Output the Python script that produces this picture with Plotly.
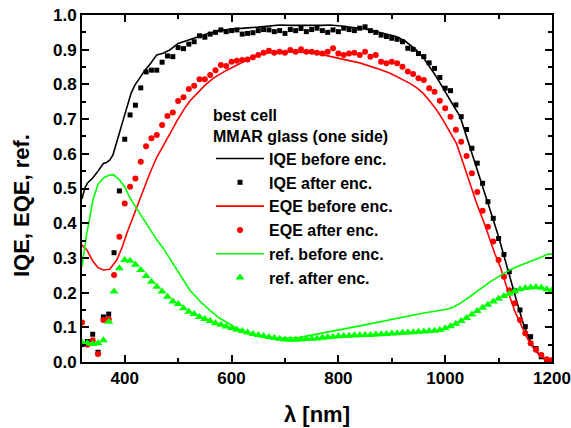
import plotly.graph_objects as go

# ---------------- data ----------------
# wavelengths of the "after encapsulation" measurements (nm)
wl_after = [320, 330, 340, 350, 360, 370, 380, 390, 400, 410, 420, 430, 440, 450, 460, 470, 480, 490,
            500, 510, 520, 530, 540, 550, 560, 570, 580, 590, 600, 610, 620, 630, 640, 650, 660, 670,
            680, 690, 700, 710, 720, 730, 740, 750, 760, 770, 780, 790, 800, 810, 820, 830, 840, 850,
            860, 870, 880, 890, 900, 910, 920, 930, 940, 950, 960, 970, 980, 990, 1000, 1010, 1020,
            1030, 1040, 1050, 1060, 1070, 1080, 1090, 1100, 1110, 1120, 1130, 1140, 1150, 1160, 1170,
            1180, 1190, 1200]

iqe_after = [0.050, 0.059, 0.080, 0.028, 0.130, 0.138, 0.315, 0.493, 0.642, 0.712, 0.740, 0.790,
             0.836, 0.841, 0.841, 0.864, 0.882, 0.880, 0.906, 0.903, 0.916, 0.923, 0.940, 0.936,
             0.945, 0.950, 0.957, 0.952, 0.955, 0.957, 0.945, 0.947, 0.949, 0.955, 0.958, 0.957,
             0.952, 0.955, 0.947, 0.958, 0.955, 0.961, 0.952, 0.958, 0.962, 0.955, 0.950, 0.957,
             0.952, 0.962, 0.958, 0.955, 0.962, 0.966, 0.955, 0.950, 0.942, 0.938, 0.933, 0.930,
             0.923, 0.904, 0.901, 0.889, 0.880, 0.862, 0.846, 0.820, 0.789, 0.782, 0.741, 0.707,
             0.670, 0.616, 0.573, 0.515, 0.462, 0.414, 0.356, 0.310, 0.260, 0.205, 0.150, 0.102,
             0.073, 0.039, 0.015, 0.006, 0.005]

eqe_after = [0.114, 0.050, 0.063, 0.023, 0.121, 0.123, 0.251, 0.361, 0.457, 0.505, 0.529, 0.577,
             0.622, 0.645, 0.654, 0.683, 0.709, 0.719, 0.752, 0.763, 0.787, 0.796, 0.815, 0.815,
             0.827, 0.841, 0.856, 0.853, 0.865, 0.868, 0.870, 0.872, 0.878, 0.885, 0.891, 0.897,
             0.891, 0.894, 0.891, 0.899, 0.894, 0.901, 0.894, 0.894, 0.891, 0.889, 0.894, 0.904,
             0.889, 0.885, 0.889, 0.891, 0.885, 0.894, 0.880, 0.885, 0.865, 0.861, 0.865, 0.861,
             0.851, 0.837, 0.830, 0.818, 0.813, 0.789, 0.779, 0.753, 0.731, 0.707, 0.669, 0.635,
             0.594, 0.544, 0.490, 0.436, 0.390, 0.347, 0.294, 0.246, 0.207, 0.169, 0.121, 0.083,
             0.054, 0.035, 0.020, 0.008, 0.005]

ref_after = [0.056, 0.054, 0.052, 0.054, 0.063, 0.116, 0.203, 0.270, 0.294, 0.292, 0.280, 0.265,
             0.248, 0.231, 0.217, 0.203, 0.188, 0.174, 0.167, 0.155, 0.145, 0.138, 0.130, 0.124,
             0.118, 0.112, 0.107, 0.102, 0.098, 0.093, 0.089, 0.085, 0.081, 0.078, 0.075, 0.072,
             0.069, 0.067, 0.065, 0.064, 0.064, 0.065, 0.066, 0.067, 0.068, 0.070, 0.071, 0.073,
             0.074, 0.075, 0.076, 0.077, 0.077, 0.078, 0.078, 0.079, 0.080, 0.081, 0.082, 0.083,
             0.084, 0.085, 0.086, 0.087, 0.088, 0.089, 0.090, 0.092, 0.097, 0.103, 0.110, 0.118,
             0.127, 0.137, 0.147, 0.156, 0.165, 0.174, 0.182, 0.190, 0.197, 0.204, 0.210, 0.213,
             0.215, 0.216, 0.214, 0.210, 0.207]

# "before encapsulation" curves (nm, value)
iqe_before_wl = [320, 325, 330, 340, 350, 360, 366, 372, 378, 385, 390, 397, 405, 412, 419, 428, 438,
                 449, 460, 472, 485, 500, 515, 528, 540, 553, 566, 578, 597, 610, 630, 650, 670, 690,
                 710, 730, 750, 770, 784, 800, 820, 840, 855, 871, 890, 908, 925, 946, 960, 971, 980,
                 990, 1003, 1015, 1028, 1040, 1053, 1065, 1078, 1090, 1100, 1110, 1121, 1133, 1146,
                 1155, 1165, 1175, 1184, 1192, 1200]
iqe_before = [0.470, 0.500, 0.515, 0.530, 0.550, 0.572, 0.575, 0.582, 0.597, 0.630, 0.660, 0.697,
              0.740, 0.775, 0.798, 0.820, 0.841, 0.862, 0.885, 0.890, 0.900, 0.918, 0.926, 0.933,
              0.938, 0.945, 0.950, 0.955, 0.959, 0.961, 0.963, 0.965, 0.967, 0.971, 0.970, 0.969,
              0.970, 0.970, 0.971, 0.969, 0.966, 0.962, 0.958, 0.952, 0.946, 0.938, 0.925, 0.899,
              0.875, 0.851, 0.830, 0.805, 0.770, 0.740, 0.707, 0.650, 0.592, 0.530, 0.467, 0.410,
              0.361, 0.305, 0.246, 0.180, 0.112, 0.075, 0.044, 0.022, 0.011, 0.007, 0.006]

eqe_before_wl = [320, 329, 341, 350, 360, 372, 385, 395, 404, 415, 425, 435, 447, 460, 472, 485, 497,
                 510, 522, 535, 550, 566, 591, 616, 635, 653, 672, 700, 722, 747, 772, 795, 816, 840,
                 859, 878, 897, 915, 934, 947, 959, 971, 984, 995, 1003, 1012, 1021, 1030, 1040, 1050,
                 1059, 1072, 1084, 1093, 1103, 1112, 1121, 1130, 1140, 1150, 1159, 1168, 1178, 1187,
                 1196, 1200]
eqe_before = [0.337, 0.323, 0.289, 0.272, 0.265, 0.267, 0.294, 0.330, 0.371, 0.415, 0.457, 0.500,
              0.544, 0.590, 0.625, 0.659, 0.693, 0.726, 0.752, 0.774, 0.797, 0.818, 0.841, 0.860,
              0.876, 0.886, 0.891, 0.895, 0.894, 0.891, 0.885, 0.878, 0.870, 0.862, 0.853, 0.843,
              0.832, 0.818, 0.803, 0.790, 0.774, 0.752, 0.726, 0.700, 0.678, 0.655, 0.630, 0.590,
              0.544, 0.500, 0.457, 0.405, 0.352, 0.312, 0.275, 0.230, 0.188, 0.148, 0.112, 0.080,
              0.054, 0.035, 0.020, 0.010, 0.004, 0.003]

ref_before_wl = [320, 325, 329, 335, 341, 350, 360, 370, 379, 390, 400, 410, 420, 429, 447, 460, 472,
                 485, 497, 510, 522, 541, 560, 578, 597, 616, 635, 653, 672, 691, 710, 728, 747, 766,
                 790, 816, 840, 859, 878, 900, 920, 940, 960, 984, 1003, 1015, 1028, 1046, 1065, 1084,
                 1103, 1121, 1140, 1159, 1175, 1184, 1192, 1200]
ref_before = [0.275, 0.330, 0.371, 0.420, 0.470, 0.512, 0.530, 0.538, 0.540, 0.525, 0.505, 0.472,
              0.448, 0.424, 0.380, 0.352, 0.328, 0.297, 0.265, 0.235, 0.207, 0.175, 0.148, 0.126,
              0.108, 0.092, 0.081, 0.073, 0.069, 0.068, 0.069, 0.071, 0.077, 0.083, 0.090, 0.097,
              0.104, 0.110, 0.116, 0.122, 0.128, 0.135, 0.141, 0.147, 0.152, 0.158, 0.169, 0.188,
              0.210, 0.231, 0.249, 0.265, 0.278, 0.289, 0.298, 0.305, 0.311, 0.311]

x_ticks = [400, 600, 800, 1000, 1200]
y_ticks = [0.0, 0.1, 0.2, 0.3, 0.4, 0.5, 0.6, 0.7, 0.8, 0.9, 1.0]

# ---------------- styling ----------------
BLACK = "#000000"
RED = "#ff0000"
GREEN = "#00ff00"
FONT = "Liberation Sans, Arial, sans-serif"

fig = go.Figure()
fig.add_trace(go.Scatter(x=iqe_before_wl, y=iqe_before, mode="lines", name="IQE before enc.",
                         line=dict(color=BLACK, width=1.6)))
fig.add_trace(go.Scatter(x=wl_after, y=iqe_after, mode="markers", name="IQE after enc.",
                         marker=dict(symbol="square", color=BLACK, size=5)))
fig.add_trace(go.Scatter(x=eqe_before_wl, y=eqe_before, mode="lines", name="EQE before enc.",
                         line=dict(color=RED, width=1.6)))
fig.add_trace(go.Scatter(x=wl_after, y=eqe_after, mode="markers", name="EQE after enc.",
                         marker=dict(symbol="circle", color=RED, size=6)))
fig.add_trace(go.Scatter(x=ref_before_wl, y=ref_before, mode="lines", name="ref. before enc.",
                         line=dict(color=GREEN, width=1.6)))
fig.add_trace(go.Scatter(x=wl_after, y=ref_after, mode="markers", name="ref. after enc.",
                         marker=dict(symbol="triangle-up", color=GREEN, size=8)))

axis_common = dict(
    showline=True, linecolor=BLACK, linewidth=2, mirror="ticks",
    ticks="inside", ticklen=7, tickwidth=1.5, tickcolor=BLACK,
    showgrid=False, zeroline=False, automargin=False,
    tickfont=dict(family=FONT, size=17, color=BLACK, weight="bold"),
)

fig.update_xaxes(range=[320, 1200], tickvals=x_ticks, ticktext=[str(v) for v in x_ticks],
                 minor=dict(dtick=100, tick0=0, ticks="inside", ticklen=4, tickcolor=BLACK, tickwidth=1.5),
                 **axis_common)
fig.update_yaxes(range=[0, 1.0], tickvals=y_ticks, ticktext=[f"{v:.1f}" for v in y_ticks],
                 minor=dict(dtick=0.05, tick0=0, ticks="inside", ticklen=4, tickcolor=BLACK, tickwidth=1.5),
                 **axis_common)

title_font = dict(family=FONT, size=22, color=BLACK, weight="bold")
fig.add_annotation(text="IQE, EQE, ref.", xref="paper", yref="paper", x=-0.13, y=0.452,
                   textangle=-90, showarrow=False, xanchor="center", yanchor="middle",
                   font=title_font)
fig.add_annotation(text="λ [nm]", xref="paper", yref="paper", x=0.5, y=-0.15,
                   showarrow=False, xanchor="center", yanchor="middle", font=title_font)

fig.update_layout(
    width=571, height=428,
    margin=dict(l=82, r=19, t=15, b=66, autoexpand=False),
    paper_bgcolor="white", plot_bgcolor="white",
    font=dict(family=FONT, color=BLACK),
    showlegend=True,
    legend=dict(
        x=0.2745, y=0.755, xanchor="left", yanchor="top",
        bgcolor="rgba(0,0,0,0)", borderwidth=0,
        title=dict(text="best cell<br>MMAR glass (one side)",
                   font=dict(family=FONT, size=16, color=BLACK, weight="bold")),
        font=dict(family=FONT, size=16, color=BLACK, weight="bold"),
        tracegroupgap=0, itemwidth=48,
    ),
)

# remove the default 8 px body margin of the page so the figure sits at the window's corner
fig.write_html("out.html", config={"displayModeBar": False},
               post_script="document.body.style.margin='0';document.body.style.overflow='hidden';")
